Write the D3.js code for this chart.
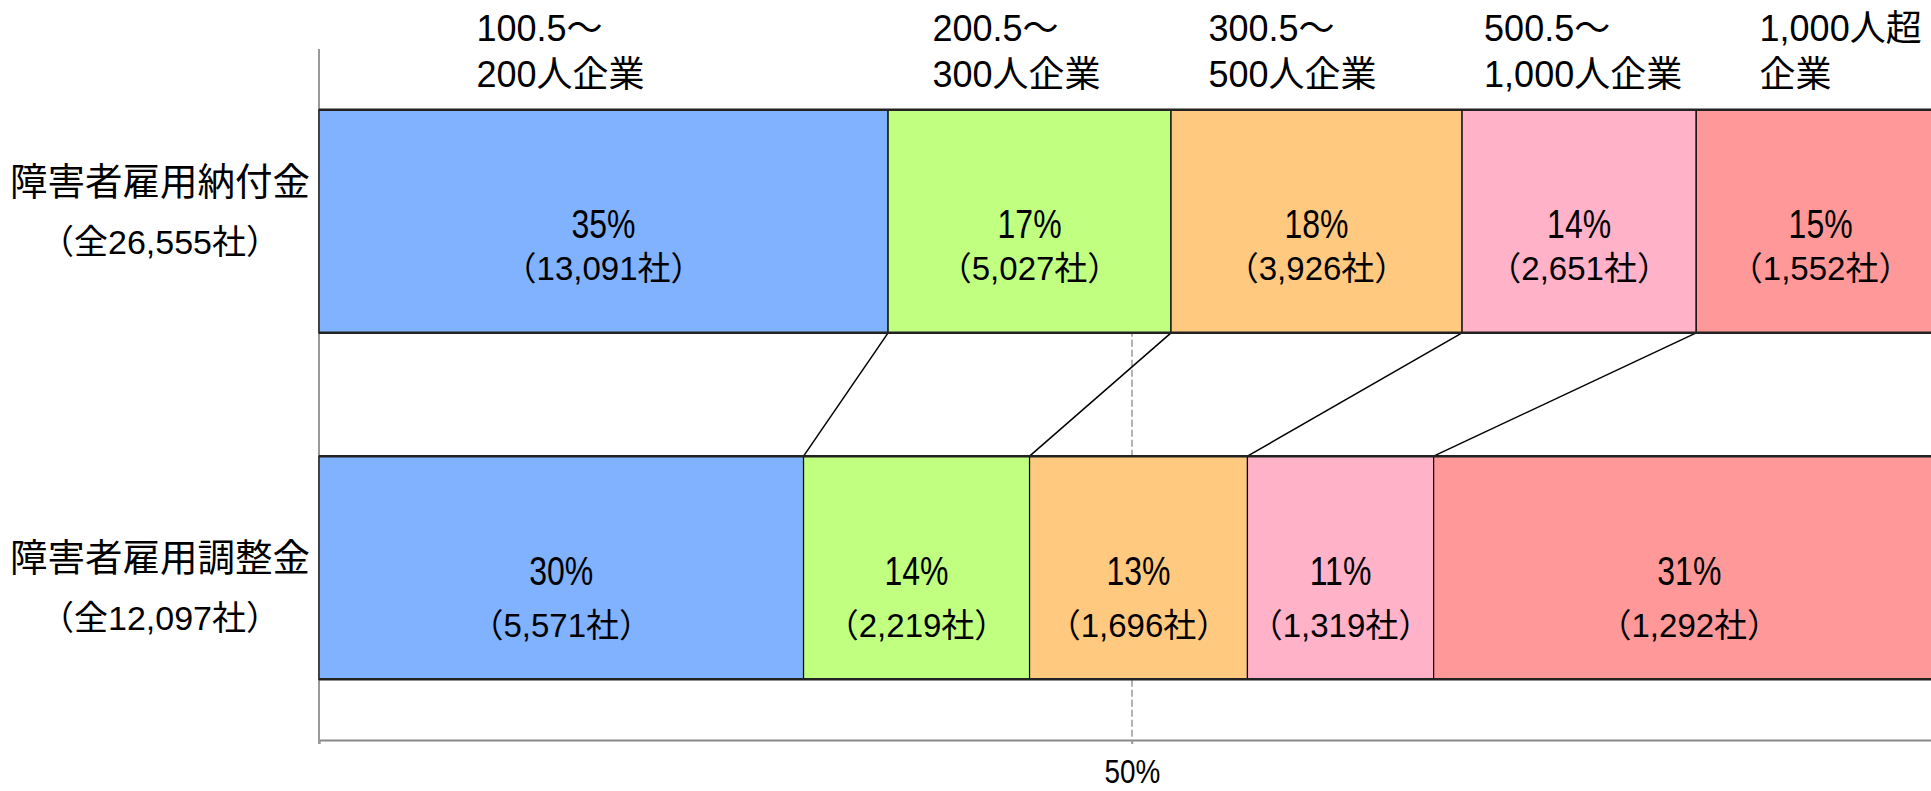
<!DOCTYPE html>
<html>
<head>
<meta charset="utf-8">
<script src="https://cdn.jsdelivr.net/npm/d3@7"></script>
<style>
  html, body { margin: 0; padding: 0; background: #fff; overflow: hidden; }
  svg { display: block; }
  text { font-family: "Liberation Sans", "Noto Sans CJK JP", sans-serif; fill: #000; }
</style>
</head>
<body>
<svg id="chart" width="1931" height="791"></svg>
<script>
// ---- data ----
const sizeCategories = [
  ["100.5～", "200人企業"],
  ["200.5～", "300人企業"],
  ["300.5～", "500人企業"],
  ["500.5～", "1,000人企業"],
  ["1,000人超", "企業"]
];
const rowNames = ["障害者雇用納付金", "障害者雇用調整金"];
const rowTotals = [26555, 12097];
const levyPct = [35.0, 17.4, 17.9, 14.4, 15.3];
const levyCounts = [13091, 5027, 3926, 2651, 1552];
const adjustPct = [29.8, 13.9, 13.4, 11.45, 31.45];
const adjustCounts = [5571, 2219, 1696, 1319, 1292];
const colors = ["#80b2ff", "#c0ff80", "#ffca80", "#ffb2c8", "#ff9999"];
const xTickValues = [0, 50, 100];
const xTickLabels = {50: "50%"};

// ---- layout constants ----
const FONT = '"Liberation Sans", "Noto Sans CJK JP", sans-serif';
const plotLeft = 319, plotRight = 1945, plotTop = 49, plotBottom = 740;
const headerNudge = [-43, -13, -24, 4, 20];
const countOffsets = [47, 58];
const labelOffsets = [[-39, 21], [-10, 50]];
const svg = d3.select("#chart");

const x = d3.scaleLinear().domain([0, 100]).range([plotLeft, plotRight]);
const y = d3.scaleBand().domain(rowNames).range([plotTop, plotBottom])
  .paddingInner(0.356).paddingOuter(0.175);

const seriesPct = [levyPct, adjustPct];
const seriesCounts = [levyCounts, adjustCounts];

function stackRow(pcts) {
  let acc = 0;
  return pcts.map(p => { const s = acc; acc += p; return [s, acc]; });
}
const stacks = seriesPct.map(stackRow);

function condensedText(sel, px, py, size, sx, str) {
  return sel.append("text")
    .attr("transform", `translate(${px},${py}) scale(${sx},1)`)
    .attr("text-anchor", "middle").attr("dominant-baseline", "central")
    .attr("font-size", size).text(str);
}

// 50% dashed gridline (behind bars)
svg.append("line")
  .attr("x1", x(50)).attr("x2", x(50))
  .attr("y1", y(rowNames[0])).attr("y2", plotBottom + 4)
  .attr("stroke", "#999").attr("stroke-width", 1.5)
  .attr("stroke-dasharray", "7,3");

// bottom axis
const axis = d3.axisBottom(x).tickValues(xTickValues).tickSize(4).tickPadding(15)
  .tickFormat(d => xTickLabels[d] || "");
const gAxis = svg.append("g").attr("transform", `translate(0,${plotBottom})`).call(axis);
gAxis.attr("font-family", null).attr("font-size", null);
gAxis.select(".domain").attr("stroke", "#888").attr("stroke-width", 2);
gAxis.selectAll(".tick line").attr("stroke", "#999").attr("stroke-width", 1.5);
gAxis.selectAll(".tick text")
  .style("font-family", FONT)
  .attr("font-size", 34).attr("fill", "#000")
  .attr("transform", "scale(0.82,1)");

// left vertical axis line
svg.append("line")
  .attr("x1", plotLeft).attr("x2", plotLeft)
  .attr("y1", plotTop).attr("y2", plotBottom + 4)
  .attr("stroke", "#999").attr("stroke-width", 2);

// connectors between rows
const bw = y.bandwidth();
for (let i = 1; i < sizeCategories.length; i++) {
  svg.append("line")
    .attr("x1", x(stacks[0][i][0])).attr("y1", y(rowNames[0]) + bw)
    .attr("x2", x(stacks[1][i][0])).attr("y2", y(rowNames[1]))
    .attr("stroke", "#000").attr("stroke-width", 1.5);
}

// bars
rowNames.forEach((row, r) => {
  const g = svg.append("g");
  const y0 = y(row);
  g.selectAll("rect").data(stacks[r]).join("rect")
    .attr("x", d => x(d[0])).attr("y", y0)
    .attr("width", d => x(d[1]) - x(d[0])).attr("height", bw)
    .attr("fill", (d, i) => colors[i])
    .attr("stroke", "#000").attr("stroke-width", 1.2);
  [y0, y0 + bw].forEach(yy => {
    g.append("line").attr("x1", plotLeft).attr("x2", plotRight)
      .attr("y1", yy).attr("y2", yy)
      .attr("stroke", "#222").attr("stroke-width", 2.5);
  });
  const cy = y0 + bw / 2;
  stacks[r].forEach((d, i) => {
    const cx = x((d[0] + d[1]) / 2);
    condensedText(g, cx, cy + 3, 40, 0.8, Math.round(seriesPct[r][i]) + "%");
    condensedText(g, cx, cy + countOffsets[r], 33, 1,
      "（" + d3.format(",")(seriesCounts[r][i]) + "社）");
  });
  // row labels
  condensedText(svg, 160, cy + labelOffsets[r][0], 37.5, 1, row);
  condensedText(svg, 160, cy + labelOffsets[r][1], 34, 1,
    "（全" + d3.format(",")(rowTotals[r]) + "社）");
});

// size headers above top bar: left-aligned two-line blocks around segment centres
const gh = svg.append("g");
sizeCategories.forEach((lines, i) => {
  const cx = x((stacks[0][i][0] + stacks[0][i][1]) / 2);
  const t = gh.append("text").attr("font-size", 36);
  lines.forEach((ln, k) => {
    t.append("tspan").attr("x", 0).attr("y", 28 + k * 46)
      .attr("dominant-baseline", "central").text(ln);
  });
  const wMax = t.node().getBBox().width;
  t.selectAll("tspan").attr("x", cx - wMax / 2 + headerNudge[i]);
});
</script>
</body>
</html>
